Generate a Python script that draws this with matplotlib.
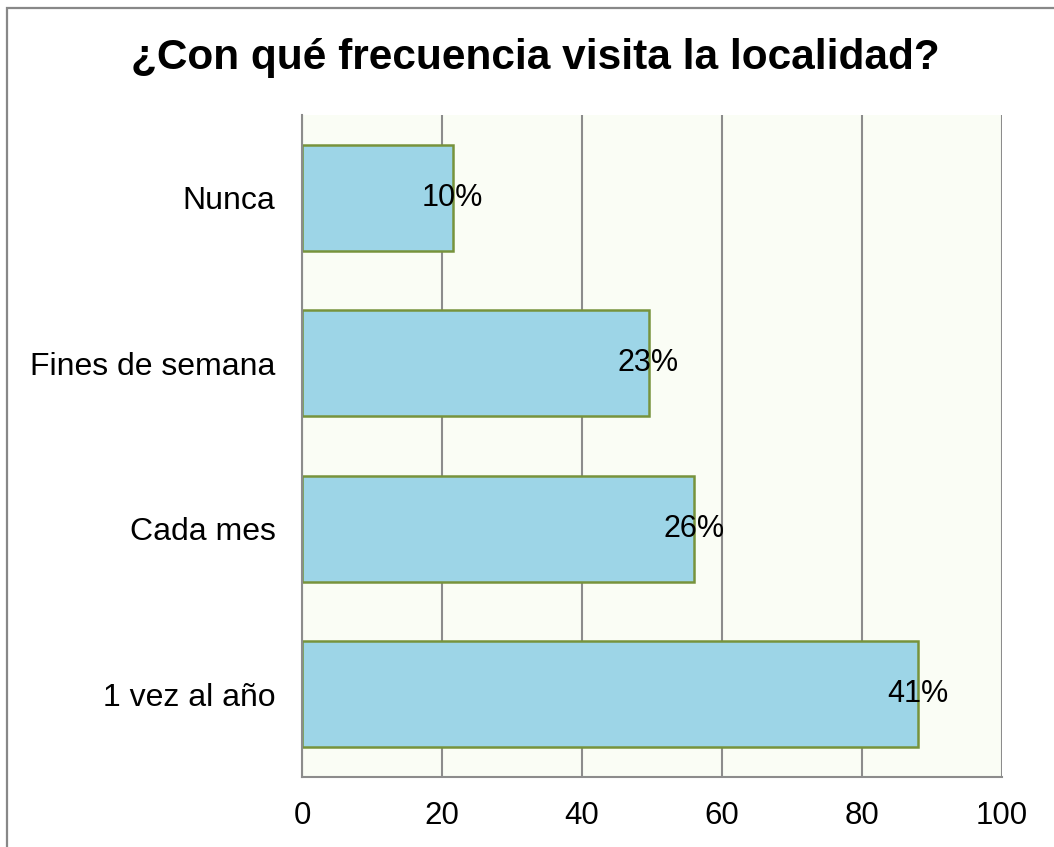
import matplotlib
matplotlib.use("Agg")
import matplotlib.pyplot as plt
from matplotlib.patches import Rectangle

plt.rcParams["font.family"] = ["Liberation Sans", "DejaVu Sans"]

# survey answers, bottom to top as drawn
categories = ["1 vez al año", "Cada mes", "Fines de semana", "Nunca"]
counts = [88, 56, 49.5, 21.5]
total = sum(counts)
pct_labels = [f"{round(100 * c / total):.0f}%" for c in counts]

x_ticks = [0, 20, 40, 60, 80, 100]

W, H = 1054, 847
fig = plt.figure(figsize=(W / 100, H / 100), dpi=100)
fig.patch.set_facecolor("white")

# thin frame around the chart area
fig.patches.append(Rectangle((7 / W, -0.1), 1.2, 1 - 8 / H + 0.1,
                             transform=fig.transFigure, fill=False,
                             edgecolor="#888888", linewidth=1.6))

ax = fig.add_axes([302 / W, (H - 777) / H, (1002 - 302) / W, (777 - 115) / H])
ax.set_facecolor("#FAFDF5")

y = range(len(categories))
bars = ax.barh(y, counts, height=0.64, color="#9DD5E7",
               edgecolor="#77933C", linewidth=1.8, zorder=3)

for b, lab in zip(bars, pct_labels):
    ax.text(b.get_width(), b.get_y() + b.get_height() / 2, lab,
            ha="center", va="center", fontsize=22, color="black", zorder=4)

ax.set_xlim(0, 100)
ax.set_ylim(-0.5, len(categories) - 0.5)
ax.set_xticks(x_ticks)
ax.set_yticks(list(y))
ax.set_yticklabels(categories)
ax.tick_params(axis="x", length=0, labelsize=22.5, colors="black", pad=17)
ax.tick_params(axis="y", length=0, labelsize=23, colors="black", pad=19)

ax.grid(axis="x", color="#8C8C8C", linewidth=1.5, zorder=1)
ax.set_axisbelow(True)
for side in ("top", "right"):
    ax.spines[side].set_visible(False)
for side in ("left", "bottom"):
    ax.spines[side].set_color("#8C8C8C")
    ax.spines[side].set_linewidth(1.5)
    ax.spines[side].set_zorder(5)

fig.text(535 / W, 1 - 69 / H, "¿Con qué frecuencia visita la localidad?",
         ha="center", va="baseline", fontsize=30.5, fontweight="bold")

fig.savefig("out.png", dpi=100)
